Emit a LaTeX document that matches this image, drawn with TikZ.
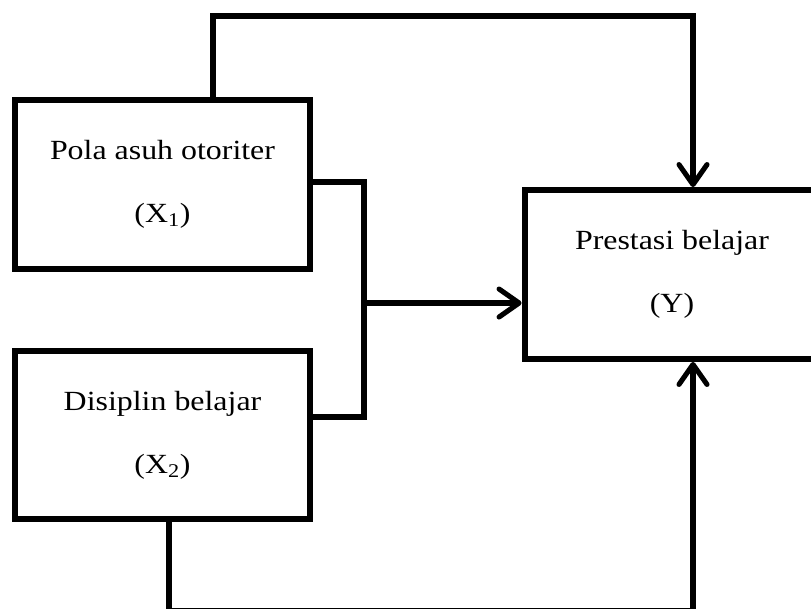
\documentclass[tikz,border=0pt]{standalone}
\usepackage{fontspec}
\setmainfont[FakeStretch=1.15]{Liberation Serif}
\usetikzlibrary{arrows.meta}

\begin{document}
\begin{tikzpicture}[x=0.75pt, y=-0.75pt,
box/.style={draw, line width=4.6pt, minimum width=221pt, minimum height=126.5pt,
inner sep=0pt, align=center, font=\fontsize{20.8}{47}\selectfont},
line/.style={draw, line width=3.8pt},
arr/.style={line, -{Straight Barb[length=15pt, width=21pt, round]}}]
\useasboundingbox (0,0) rectangle (811,608);
\node[box] (x1) at (162.5,184.5) {Pola asuh otoriter\\(X\textsubscript{1})};
\node[box] (x2) at (162.5,435) {Disiplin belajar\\(X\textsubscript{2})};
\node[box] (y) at (672,274.5) {Prestasi belajar\\(Y)};
% junction of the bracket
\coordinate (b1) at (364,182); \coordinate (b2) at (364,417); \coordinate (jn) at (364,303);
\coordinate (t1) at (213,16); \coordinate (t2) at (693,16);
\coordinate (u1) at (169,610.2); \coordinate (u2) at (693,610.2);
\draw[line] (x1.east |- b1) -- (b1) -- (b2) -- (x2.east |- b2);
\draw[arr] (jn) -- (y.west |- jn);
\draw[arr] (x1.north -| t1) -- (t1) -- (t2) -- (y.north -| t2);
\draw[arr] (x2.south -| u1) -- (u1) -- (u2) -- (y.south -| u2);
\end{tikzpicture}
\end{document}
